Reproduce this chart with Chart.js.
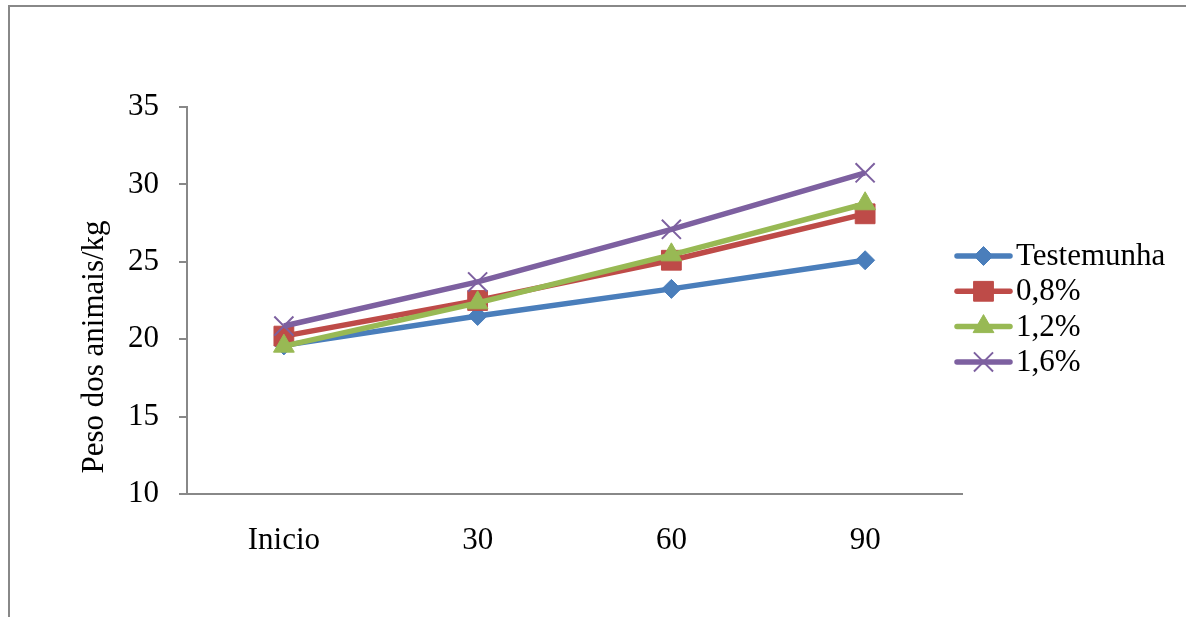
<!DOCTYPE html>
<html>
<head>
<meta charset="utf-8">
<script src="https://cdn.jsdelivr.net/npm/chart.js@4/dist/chart.umd.min.js"></script>
<style>
  html, body { margin: 0; padding: 0; background: #ffffff; }
  #wrap { position: relative; width: 1186px; height: 617px; }
</style>
</head>
<body>
<div id="wrap"><canvas id="c" width="1186" height="617"></canvas></div>
<script>
const categories = ["Inicio", "30", "60", "90"];
const seriesNames = ["Testemunha", "0,8%", "1,2%", "1,6%"];
const testemunha = [19.6, 21.5, 23.25, 25.1];
const p08 = [20.2, 22.5, 25.1, 28.1];
const p12 = [19.55, 22.35, 25.45, 28.75];
const p16 = [20.85, 23.7, 27.1, 30.75];
const yTicks = [10, 15, 20, 25, 30, 35];
const yTitle = "Peso dos animais/kg";

const FONT = "'Liberation Serif', 'Times New Roman', serif";
const colors = ["#4A7EBB", "#BE4B48", "#98B954", "#7D60A0"];
const styles = ["rectRot", "rect", "triangle", "crossRot"];
const radii = [9.5, 14, 12, 13.5];
const pBorder = [1, 1, 1, 2];
const values = [testemunha, p08, p12, p16];

const datasets = values.map((v, i) => ({
  label: seriesNames[i],
  data: v,
  borderColor: colors[i],
  backgroundColor: colors[i],
  borderWidth: 5.5,
  pointStyle: styles[i],
  pointRadius: radii[i],
  pointHoverRadius: radii[i],
  pointBorderWidth: pBorder[i],
  pointBackgroundColor: colors[i],
  pointBorderColor: colors[i],
  tension: 0,
  order: 4 - i
}));

function drawMarker(ctx, style, x, y, r, color, bw) {
  ctx.save();
  ctx.fillStyle = color; ctx.strokeStyle = color; ctx.lineWidth = bw;
  ctx.beginPath();
  if (style === "rectRot") {
    ctx.moveTo(x, y - r); ctx.lineTo(x + r, y); ctx.lineTo(x, y + r); ctx.lineTo(x - r, y); ctx.closePath();
    ctx.fill(); ctx.stroke();
  } else if (style === "rect") {
    const s = r * Math.SQRT1_2;
    ctx.rect(x - s, y - s, 2 * s, 2 * s); ctx.fill(); ctx.stroke();
  } else if (style === "triangle") {
    ctx.moveTo(x, y - r);
    ctx.lineTo(x + r * Math.sin(Math.PI / 3), y + r / 2);
    ctx.lineTo(x - r * Math.sin(Math.PI / 3), y + r / 2);
    ctx.closePath(); ctx.fill(); ctx.stroke();
  } else if (style === "crossRot") {
    const d = r * Math.SQRT1_2;
    ctx.moveTo(x - d, y - d); ctx.lineTo(x + d, y + d);
    ctx.moveTo(x + d, y - d); ctx.lineTo(x - d, y + d);
    ctx.stroke();
  }
  ctx.restore();
}

const extras = {
  id: "extras",
  beforeDraw(chart) {
    const ctx = chart.ctx;
    ctx.save();
    ctx.strokeStyle = "#888888";
    ctx.lineWidth = 2;
    ctx.beginPath();
    ctx.moveTo(9, 617); ctx.lineTo(9, 6); ctx.lineTo(1186, 6);
    ctx.stroke();
    ctx.restore();
  },
  afterDraw(chart) {
    const ctx = chart.ctx;
    // y-axis title
    ctx.save();
    ctx.translate(95, 347);
    ctx.rotate(-Math.PI / 2);
    ctx.fillStyle = "#000";
    ctx.font = "31px " + FONT;
    ctx.textAlign = "center";
    ctx.textBaseline = "middle";
    ctx.fillText(yTitle, 0, 0);
    ctx.restore();
    // legend
    chart.data.datasets.forEach((ds, i) => {
      const y = 256 + i * 35.3;
      ctx.save();
      ctx.strokeStyle = ds.borderColor;
      ctx.lineWidth = 5.5;
      ctx.lineCap = "round";
      ctx.beginPath();
      ctx.moveTo(957, y); ctx.lineTo(1010, y);
      ctx.stroke();
      ctx.restore();
      drawMarker(ctx, ds.pointStyle, 983.5, y, ds.pointRadius, ds.borderColor, ds.pointBorderWidth);
      ctx.save();
      ctx.fillStyle = "#000";
      ctx.font = "31px " + FONT;
      ctx.textAlign = "left";
      ctx.textBaseline = "middle";
      ctx.fillText(ds.label, 1016, y + 1);
      ctx.restore();
    });
  }
};

new Chart(document.getElementById("c"), {
  type: "line",
  data: { labels: categories, datasets },
  options: {
    responsive: false,
    animation: false,
    events: [],
    layout: { padding: { left: 0, top: 107, right: 224, bottom: 0 } },
    plugins: { legend: { display: false }, tooltip: { enabled: false } },
    scales: {
      x: {
        offset: true,
        grid: { display: false, drawTicks: false },
        border: { display: true, color: "#888888", width: 2 },
        ticks: { color: "#000", font: { family: FONT, size: 31 }, padding: 28, maxRotation: 0 },
        afterFit(s) { s.height = 123; }
      },
      y: {
        min: 10, max: 35,
        afterBuildTicks(s) { s.ticks = yTicks.map(v => ({ value: v })); },
        grid: { drawOnChartArea: false, drawTicks: true, tickLength: 8, color: "#888888", lineWidth: 2 },
        border: { display: true, color: "#888888", width: 2 },
        ticks: { color: "#000", font: { family: FONT, size: 31 }, padding: 20 },
        afterFit(s) { s.width = 187; }
      }
    }
  },
  plugins: [extras]
});
</script>
</body>
</html>
